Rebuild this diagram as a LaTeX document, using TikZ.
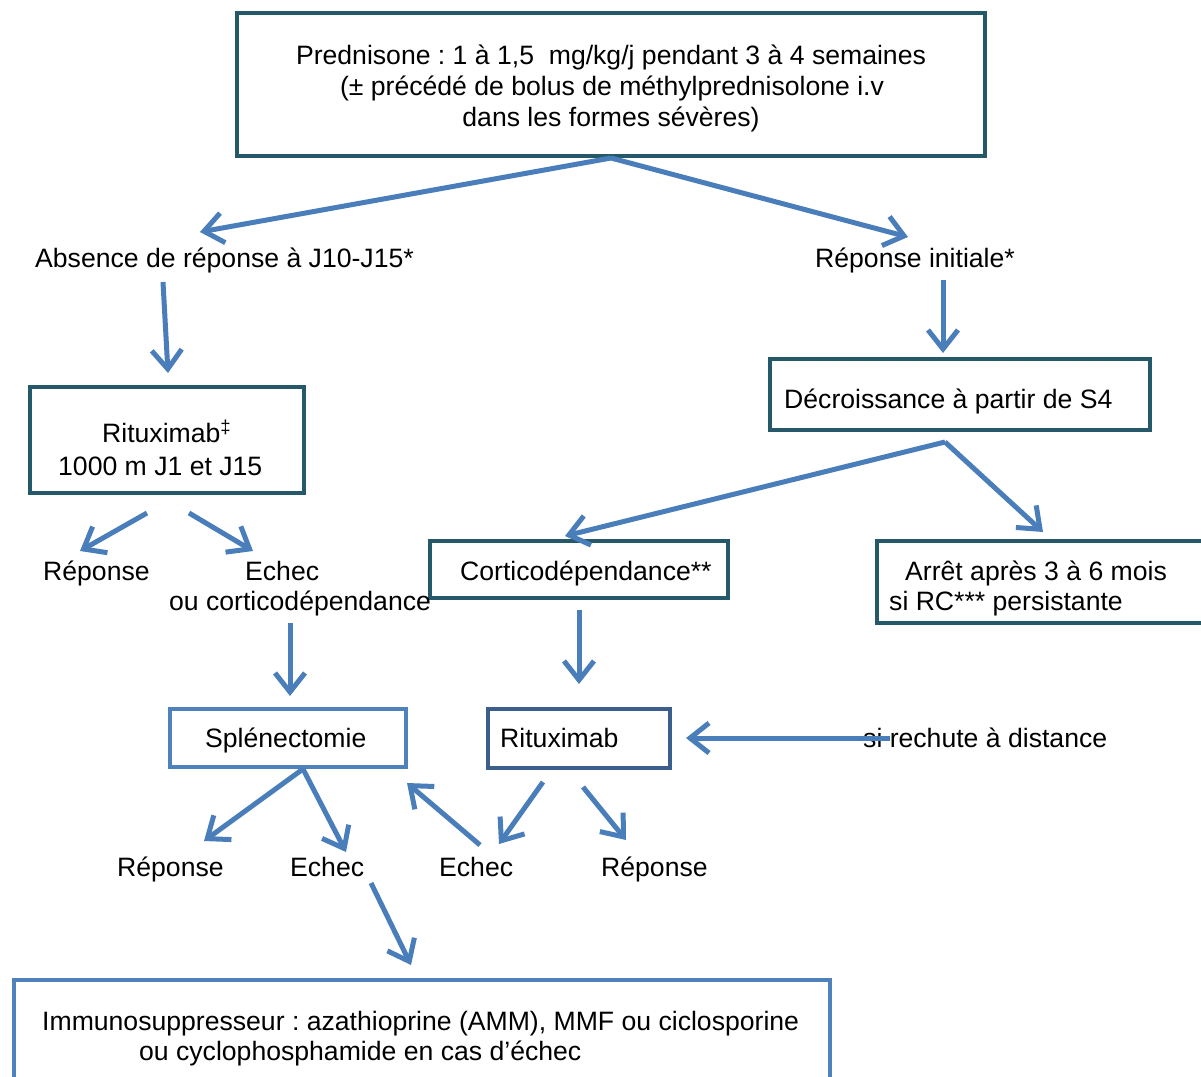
\documentclass[tikz,border=0pt]{standalone}
\usepackage{fontspec}
\setmainfont{Liberation Sans}
\usetikzlibrary{arrows.meta}
\definecolor{boxteal}{RGB}{37,89,106}
\definecolor{boxblue}{RGB}{79,129,189}
\definecolor{boxnavy}{RGB}{59,94,140}
\definecolor{arrowblue}{RGB}{74,126,187}
\begin{document}
\frenchspacing
\begin{tikzpicture}[x=1pt,y=-1pt,
  font=\fontsize{26.6}{31}\selectfont\frenchspacing,
  tealbox/.style={draw=boxteal,line width=4pt,inner sep=0pt},
  bluebox/.style={draw=boxblue,line width=4pt,inner sep=0pt},
  navybox/.style={draw=boxnavy,line width=4pt,inner sep=0pt},
  lbl/.style={inner sep=0pt,anchor=west,text height=19pt,text depth=0pt},
  arr/.style={draw=arrowblue,line width=5pt,-{Straight Barb[length=19pt,width=30pt]}}]
\useasboundingbox (0,0) rectangle (1201,1076);
\clip (0,0) rectangle (1201,1076);

% boxes
\node[tealbox,minimum width=748,minimum height=143] (top) at (611,84.5) {};
\node[tealbox,minimum width=274,minimum height=106] (ritA) at (167,440) {};
\node[tealbox,minimum width=380,minimum height=71] (decr) at (960,394.5) {};
\node[tealbox,minimum width=298,minimum height=57] (cortico) at (579,569.5) {};
\node[tealbox,anchor=west,minimum width=340,minimum height=82] (arret) at (875,582) {};
\node[bluebox,minimum width=236,minimum height=58] (splen) at (288,738) {};
\node[navybox,minimum width=182,minimum height=59] (ritB) at (579,738.5) {};
\node[bluebox,anchor=north west,minimum width=816,minimum height=120] (immuno) at (12,978) {};

% box texts
\node[lbl,anchor=center] (top1) at (611,55) {Prednisone : 1 à 1,5\ \ mg/kg/j pendant 3 à 4 semaines};
\node[lbl,anchor=center] (top2) at (612,86) {(± précédé de bolus de méthylprednisolone i.v};
\node[lbl,anchor=center] (top3) at (611,117) {dans les formes sévères)};
\node[lbl] (ritA1) at (102,433) {Rituximab\textsuperscript{‡}};
\node[lbl] (ritA2) at (58,466) {1000 m J1 et J15};
\node[lbl] (decrTxt) at (784,399) {Décroissance à partir de S4};
\node[lbl] (corticoTxt) at (460,571) {Corticodépendance**};
\node[lbl] (arret1) at (905,571) {Arrêt après 3 à 6 mois};
\node[lbl] (arret2) at (889,601) {si RC*** persistante};
\node[lbl] (splenTxt) at (205,738) {Splénectomie};
\node[lbl] (ritBTxt) at (500,738) {Rituximab};
\node[lbl] (immuno1) at (42,1021) {Immunosuppresseur : azathioprine (AMM), MMF ou ciclosporine};
\node[lbl] (immuno2) at (139,1051) {ou cyclophosphamide en cas d’échec};

% labels
\node[lbl] (absence) at (35,258) {Absence de réponse à J10-J15*};
\node[lbl] (repinit) at (815,258) {Réponse initiale*};
\node[lbl] (repA) at (43,571) {Réponse};
\node[lbl] (echecA) at (245,571) {Echec};
\node[lbl] (ouCort) at (169,601) {ou corticodépendance};
\node[lbl] (rechute) at (863,738) {si rechute à distance};
\node[lbl] (repB) at (117,867) {Réponse};
\node[lbl] (echecB) at (290,867) {Echec};
\node[lbl] (echecC) at (439,867) {Echec};
\node[lbl] (repC) at (601,867) {Réponse};

% arrow end points
\coordinate (a1e) at (200,232);
\coordinate (a2e) at (908,237);
\coordinate (a3s) at (163,282); \coordinate (a3e) at (168,373);
\coordinate (a4s) at (943,280); \coordinate (a4e) at (943,353);
\coordinate (a5s) at (147,513); \coordinate (a5e) at (80,551);
\coordinate (a6s) at (189,513); \coordinate (a6e) at (253,551);
\coordinate (a7s) at (945,442); \coordinate (a7e) at (565,536);
\coordinate (a8e) at (1043,532);
\coordinate (a9s) at (290,623); \coordinate (a9e) at (290,696);
\coordinate (a10s) at (579,610); \coordinate (a10e) at (579,684);
\coordinate (a11s) at (890,738); \coordinate (a11e) at (686,738);
\coordinate (a12s) at (303,769); \coordinate (a12e) at (204,841);
\coordinate (a13e) at (346,852);
\coordinate (a14s) at (543,782); \coordinate (a14e) at (499,844);
\coordinate (a15s) at (583,787); \coordinate (a15e) at (626,840);
\coordinate (a16s) at (480,845); \coordinate (a16e) at (407,783);
\coordinate (a17s) at (371,883); \coordinate (a17e) at (411,965);

% arrows
\draw[arr] (top.south) -- (a1e);
\draw[arr] (top.south) -- (a2e);
\draw[arr] (a3s) -- (a3e);
\draw[arr] (a4s) -- (a4e);
\draw[arr] (a5s) -- (a5e);
\draw[arr] (a6s) -- (a6e);
\draw[arr] (a7s) -- (a7e);
\draw[arr] (a7s) -- (a8e);
\draw[arr] (a9s) -- (a9e);
\draw[arr] (a10s) -- (a10e);
\draw[arr] (a11s) -- (a11e);
\draw[arr] (a12s) -- (a12e);
\draw[arr] (a12s) -- (a13e);
\draw[arr] (a14s) -- (a14e);
\draw[arr] (a15s) -- (a15e);
\draw[arr] (a16s) -- (a16e);
\draw[arr] (a17s) -- (a17e);
\end{tikzpicture}
\end{document}
